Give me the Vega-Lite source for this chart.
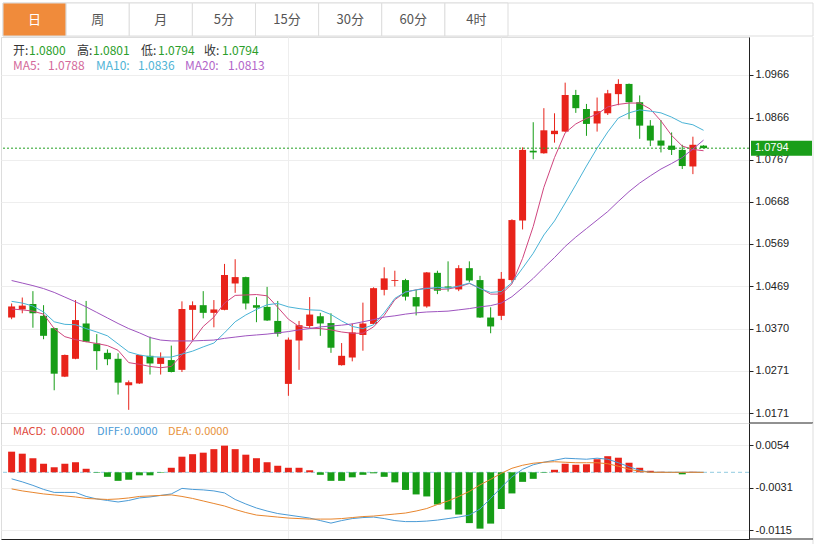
{
"$schema": "https://vega.github.io/schema/vega-lite/v6.json",
"padding": 0,
"spacing": 0,
"bounds": "flush",
"background": "white",
"config": {
  "view": {"stroke": "#dddddd"},
  "locale": {"number": {"decimal": ".", "thousands": ",", "grouping": [3], "currency": ["", ""], "minus": "-"}},
  "font": "Liberation Sans"
},
"datasets": {
  "tabs": [{"tab":"日"},{"tab":"周"},{"tab":"月"},{"tab":"5分"},{"tab":"15分"},{"tab":"30分"},{"tab":"60分"},{"tab":"4时"}],
  "last": [{"o":1.0800,"h":1.0801,"l":1.0794,"c":1.0794,"ma5":1.0788,"ma10":1.0836,"ma20":1.0813,"macd":0,"diff":0,"dea":0}],
  "k": [
{"i":0,"o":1.0396,"h":1.0429,"l":1.0392,"c":1.0422,"ma5":1.0416,"ma10":1.0434,"ma20":1.0483,"macd":0.0041,"diff":-0.0013,"dea":-0.0033},
{"i":1,"o":1.0415,"h":1.0443,"l":1.0406,"c":1.0424,"ma5":1.0414,"ma10":1.0430,"ma20":1.0477,"macd":0.0037,"diff":-0.0019,"dea":-0.0037},
{"i":2,"o":1.0428,"h":1.0458,"l":1.0372,"c":1.0406,"ma5":1.0411,"ma10":1.0423,"ma20":1.0471,"macd":0.0028,"diff":-0.0026,"dea":-0.0040},
{"i":3,"o":1.0400,"h":1.0425,"l":1.0345,"c":1.0353,"ma5":1.0404,"ma10":1.0409,"ma20":1.0464,"macd":0.0017,"diff":-0.0034,"dea":-0.0043},
{"i":4,"o":1.0371,"h":1.0372,"l":1.0225,"c":1.0264,"ma5":1.0370,"ma10":1.0386,"ma20":1.0455,"macd":0.0010,"diff":-0.0040,"dea":-0.0045},
{"i":5,"o":1.0257,"h":1.0309,"l":1.0256,"c":1.0308,"ma5":1.0351,"ma10":1.0380,"ma20":1.0444,"macd":0.0017,"diff":-0.0040,"dea":-0.0047},
{"i":6,"o":1.0299,"h":1.0437,"l":1.0298,"c":1.0390,"ma5":1.0344,"ma10":1.0379,"ma20":1.0433,"macd":0.0020,"diff":-0.0040,"dea":-0.0049},
{"i":7,"o":1.0382,"h":1.0435,"l":1.0338,"c":1.0339,"ma5":1.0339,"ma10":1.0370,"ma20":1.0421,"macd":0.0007,"diff":-0.0048,"dea":-0.0052},
{"i":8,"o":1.0335,"h":1.0357,"l":1.0273,"c":1.0317,"ma5":1.0335,"ma10":1.0362,"ma20":1.0408,"macd":-0.0001,"diff":-0.0053,"dea":-0.0053},
{"i":9,"o":1.0313,"h":1.0321,"l":1.0284,"c":1.0298,"ma5":1.0330,"ma10":1.0353,"ma20":1.0395,"macd":-0.0009,"diff":-0.0056,"dea":-0.0054},
{"i":10,"o":1.0299,"h":1.0312,"l":1.0215,"c":1.0243,"ma5":1.0319,"ma10":1.0334,"ma20":1.0382,"macd":-0.0017,"diff":-0.0059,"dea":-0.0053},
{"i":11,"o":1.0237,"h":1.0248,"l":1.0179,"c":1.0244,"ma5":1.0290,"ma10":1.0315,"ma20":1.0370,"macd":-0.0015,"diff":-0.0056,"dea":-0.0051},
{"i":12,"o":1.0241,"h":1.0308,"l":1.0240,"c":1.0308,"ma5":1.0286,"ma10":1.0308,"ma20":1.0360,"macd":-0.0006,"diff":-0.0051,"dea":-0.0048},
{"i":13,"o":1.0306,"h":1.0351,"l":1.0262,"c":1.0288,"ma5":1.0281,"ma10":1.0304,"ma20":1.0349,"macd":-0.0006,"diff":-0.0049,"dea":-0.0047},
{"i":14,"o":1.0287,"h":1.0314,"l":1.0262,"c":1.0302,"ma5":1.0278,"ma10":1.0303,"ma20":1.0343,"macd":-0.0001,"diff":-0.0046,"dea":-0.0046},
{"i":15,"o":1.0296,"h":1.0330,"l":1.0267,"c":1.0268,"ma5":1.0281,"ma10":1.0303,"ma20":1.0341,"macd":0.0009,"diff":-0.0043,"dea":-0.0045},
{"i":16,"o":1.0273,"h":1.0434,"l":1.0268,"c":1.0416,"ma5":1.0308,"ma10":1.0310,"ma20":1.0341,"macd":0.0031,"diff":-0.0032,"dea":-0.0048},
{"i":17,"o":1.0414,"h":1.0434,"l":1.0343,"c":1.0425,"ma5":1.0341,"ma10":1.0317,"ma20":1.0341,"macd":0.0036,"diff":-0.0034,"dea":-0.0052},
{"i":18,"o":1.0425,"h":1.0458,"l":1.0394,"c":1.0407,"ma5":1.0375,"ma10":1.0327,"ma20":1.0342,"macd":0.0039,"diff":-0.0035,"dea":-0.0057},
{"i":19,"o":1.0407,"h":1.0437,"l":1.0373,"c":1.0415,"ma5":1.0397,"ma10":1.0336,"ma20":1.0343,"macd":0.0046,"diff":-0.0037,"dea":-0.0062},
{"i":20,"o":1.0414,"h":1.0522,"l":1.0413,"c":1.0496,"ma5":1.0430,"ma10":1.0360,"ma20":1.0347,"macd":0.0053,"diff":-0.0041,"dea":-0.0067},
{"i":21,"o":1.0476,"h":1.0533,"l":1.0454,"c":1.0491,"ma5":1.0448,"ma10":1.0386,"ma20":1.0350,"macd":0.0046,"diff":-0.0054,"dea":-0.0074},
{"i":22,"o":1.0491,"h":1.0492,"l":1.0415,"c":1.0429,"ma5":1.0449,"ma10":1.0402,"ma20":1.0353,"macd":0.0035,"diff":-0.0063,"dea":-0.0080},
{"i":23,"o":1.0425,"h":1.0444,"l":1.0385,"c":1.0419,"ma5":1.0450,"ma10":1.0415,"ma20":1.0355,"macd":0.0028,"diff":-0.0071,"dea":-0.0085},
{"i":24,"o":1.0421,"h":1.0468,"l":1.0388,"c":1.0389,"ma5":1.0447,"ma10":1.0426,"ma20":1.0357,"macd":0.0020,"diff":-0.0077,"dea":-0.0087},
{"i":25,"o":1.0388,"h":1.0435,"l":1.0351,"c":1.0358,"ma5":1.0420,"ma10":1.0429,"ma20":1.0360,"macd":0.0013,"diff":-0.0082,"dea":-0.0089},
{"i":26,"o":1.0240,"h":1.0349,"l":1.0212,"c":1.0344,"ma5":1.0392,"ma10":1.0421,"ma20":1.0363,"macd":0.0009,"diff":-0.0085,"dea":-0.0091},
{"i":27,"o":1.0342,"h":1.0388,"l":1.0273,"c":1.0378,"ma5":1.0375,"ma10":1.0417,"ma20":1.0367,"macd":0.0009,"diff":-0.0088,"dea":-0.0092},
{"i":28,"o":1.0376,"h":1.0444,"l":1.0371,"c":1.0403,"ma5":1.0371,"ma10":1.0414,"ma20":1.0370,"macd":0.0004,"diff":-0.0091,"dea":-0.0093},
{"i":29,"o":1.0399,"h":1.0407,"l":1.0353,"c":1.0382,"ma5":1.0370,"ma10":1.0413,"ma20":1.0374,"macd":-0.0005,"diff":-0.0096,"dea":-0.0093},
{"i":30,"o":1.0383,"h":1.0406,"l":1.0313,"c":1.0325,"ma5":1.0367,"ma10":1.0403,"ma20":1.0376,"macd":-0.0017,"diff":-0.0101,"dea":-0.0093},
{"i":31,"o":1.0284,"h":1.0336,"l":1.0283,"c":1.0306,"ma5":1.0362,"ma10":1.0388,"ma20":1.0378,"macd":-0.0017,"diff":-0.0096,"dea":-0.0092},
{"i":32,"o":1.0302,"h":1.0382,"l":1.0293,"c":1.0361,"ma5":1.0359,"ma10":1.0375,"ma20":1.0381,"macd":-0.0010,"diff":-0.0092,"dea":-0.0090},
{"i":33,"o":1.0355,"h":1.0431,"l":1.0318,"c":1.0382,"ma5":1.0359,"ma10":1.0370,"ma20":1.0386,"macd":-0.0005,"diff":-0.0090,"dea":-0.0088},
{"i":34,"o":1.0381,"h":1.0467,"l":1.0380,"c":1.0465,"ma5":1.0374,"ma10":1.0379,"ma20":1.0391,"macd":-0.0002,"diff":-0.0089,"dea":-0.0087},
{"i":35,"o":1.0461,"h":1.0514,"l":1.0448,"c":1.0488,"ma5":1.0401,"ma10":1.0407,"ma20":1.0397,"macd":-0.0009,"diff":-0.0092,"dea":-0.0085},
{"i":36,"o":1.0482,"h":1.0506,"l":1.0469,"c":1.0484,"ma5":1.0438,"ma10":1.0441,"ma20":1.0400,"macd":-0.0020,"diff":-0.0096,"dea":-0.0083},
{"i":37,"o":1.0484,"h":1.0487,"l":1.0436,"c":1.0445,"ma5":1.0456,"ma10":1.0456,"ma20":1.0404,"macd":-0.0035,"diff":-0.0098,"dea":-0.0081},
{"i":38,"o":1.0444,"h":1.0461,"l":1.0401,"c":1.0422,"ma5":1.0461,"ma10":1.0461,"ma20":1.0407,"macd":-0.0044,"diff":-0.0098,"dea":-0.0077},
{"i":39,"o":1.0422,"h":1.0503,"l":1.0419,"c":1.0502,"ma5":1.0466,"ma10":1.0464,"ma20":1.0409,"macd":-0.0048,"diff":-0.0097,"dea":-0.0072},
{"i":40,"o":1.0501,"h":1.0506,"l":1.0451,"c":1.0459,"ma5":1.0462,"ma10":1.0467,"ma20":1.0410,"macd":-0.0064,"diff":-0.0095,"dea":-0.0064},
{"i":41,"o":1.0469,"h":1.0528,"l":1.0457,"c":1.0466,"ma5":1.0463,"ma10":1.0465,"ma20":1.0411,"macd":-0.0074,"diff":-0.0092,"dea":-0.0057},
{"i":42,"o":1.0462,"h":1.0519,"l":1.0458,"c":1.0512,"ma5":1.0468,"ma10":1.0470,"ma20":1.0414,"macd":-0.0084,"diff":-0.0089,"dea":-0.0048},
{"i":43,"o":1.0512,"h":1.0528,"l":1.0479,"c":1.0483,"ma5":1.0476,"ma10":1.0477,"ma20":1.0417,"macd":-0.0101,"diff":-0.0085,"dea":-0.0038},
{"i":44,"o":1.0484,"h":1.0494,"l":1.0395,"c":1.0396,"ma5":1.0465,"ma10":1.0464,"ma20":1.0421,"macd":-0.0112,"diff":-0.0073,"dea":-0.0025},
{"i":45,"o":1.0396,"h":1.0420,"l":1.0359,"c":1.0375,"ma5":1.0451,"ma10":1.0455,"ma20":1.0424,"macd":-0.0102,"diff":-0.0052,"dea":-0.0014},
{"i":46,"o":1.0400,"h":1.0503,"l":1.0390,"c":1.0487,"ma5":1.0451,"ma10":1.0457,"ma20":1.0430,"macd":-0.0073,"diff":-0.0030,"dea":-0.0002},
{"i":47,"o":1.0484,"h":1.0627,"l":1.0478,"c":1.0625,"ma5":1.0475,"ma10":1.0478,"ma20":1.0445,"macd":-0.0042,"diff":-0.0009,"dea":0.0008},
{"i":48,"o":1.0624,"h":1.0796,"l":1.0603,"c":1.0790,"ma5":1.0535,"ma10":1.0512,"ma20":1.0466,"macd":-0.0019,"diff":0.0006,"dea":0.0014},
{"i":49,"o":1.0788,"h":1.0855,"l":1.0768,"c":1.0784,"ma5":1.0610,"ma10":1.0547,"ma20":1.0488,"macd":-0.0013,"diff":0.0015,"dea":0.0018},
{"i":50,"o":1.0782,"h":1.0888,"l":1.0781,"c":1.0836,"ma5":1.0702,"ma10":1.0590,"ma20":1.0513,"macd":-0.0001,"diff":0.0020,"dea":0.0020},
{"i":51,"o":1.0827,"h":1.0876,"l":1.0807,"c":1.0835,"ma5":1.0772,"ma10":1.0623,"ma20":1.0537,"macd":0.0005,"diff":0.0024,"dea":0.0021},
{"i":52,"o":1.0833,"h":1.0948,"l":1.0832,"c":1.0919,"ma5":1.0830,"ma10":1.0665,"ma20":1.0563,"macd":0.0017,"diff":0.0028,"dea":0.0020},
{"i":53,"o":1.0919,"h":1.0931,"l":1.0877,"c":1.0888,"ma5":1.0851,"ma10":1.0708,"ma20":1.0585,"macd":0.0015,"diff":0.0027,"dea":0.0019},
{"i":54,"o":1.0886,"h":1.0898,"l":1.0823,"c":1.0851,"ma5":1.0864,"ma10":1.0752,"ma20":1.0605,"macd":0.0016,"diff":0.0026,"dea":0.0019},
{"i":55,"o":1.0852,"h":1.0913,"l":1.0833,"c":1.0881,"ma5":1.0874,"ma10":1.0794,"ma20":1.0625,"macd":0.0026,"diff":0.0028,"dea":0.0019},
{"i":56,"o":1.0876,"h":1.0931,"l":1.0872,"c":1.0923,"ma5":1.0891,"ma10":1.0832,"ma20":1.0645,"macd":0.0032,"diff":0.0026,"dea":0.0017},
{"i":57,"o":1.0921,"h":1.0956,"l":1.0895,"c":1.0945,"ma5":1.0897,"ma10":1.0865,"ma20":1.0669,"macd":0.0029,"diff":0.0019,"dea":0.0012},
{"i":58,"o":1.0945,"h":1.0946,"l":1.0862,"c":1.0902,"ma5":1.0900,"ma10":1.0877,"ma20":1.0692,"macd":0.0019,"diff":0.0011,"dea":0.0006},
{"i":59,"o":1.0902,"h":1.0918,"l":1.0816,"c":1.0847,"ma5":1.0900,"ma10":1.0884,"ma20":1.0712,"macd":0.0009,"diff":0.0004,"dea":0.0002},
{"i":60,"o":1.0847,"h":1.0860,"l":1.0799,"c":1.0812,"ma5":1.0886,"ma10":1.0881,"ma20":1.0729,"macd":0.0003,"diff":0.0000,"dea":0.0000},
{"i":61,"o":1.0812,"h":1.0860,"l":1.0784,"c":1.0800,"ma5":1.0858,"ma10":1.0877,"ma20":1.0745,"macd":0.0001,"diff":0.0000,"dea":0.0000},
{"i":62,"o":1.0800,"h":1.0831,"l":1.0778,"c":1.0790,"ma5":1.0824,"ma10":1.0867,"ma20":1.0758,"macd":0.0000,"diff":0.0000,"dea":0.0000},
{"i":63,"o":1.0790,"h":1.0802,"l":1.0745,"c":1.0752,"ma5":1.0799,"ma10":1.0854,"ma20":1.0772,"macd":-0.0004,"diff":0.0000,"dea":0.0000},
{"i":64,"o":1.0751,"h":1.0821,"l":1.0733,"c":1.0802,"ma5":1.0791,"ma10":1.0849,"ma20":1.0792,"macd":0.0001,"diff":0.0000,"dea":0.0000},
{"i":65,"o":1.0800,"h":1.0801,"l":1.0794,"c":1.0794,"ma5":1.0788,"ma10":1.0836,"ma20":1.0813,"macd":0.0000,"diff":0.0000,"dea":0.0000}
  ]
},
"vconcat": [
  {
    "width": 812,
    "height": 37,
    "view": {"stroke": null},
    "data": {"name": "tabs"},
    "layer": [
      {"data": {"values": [{}]}, "mark": {"type": "rect", "fill": "white", "stroke": "#dddddd", "strokeWidth": 1},
       "encoding": {"x": {"value": 2}, "x2": {"value": 812}, "y": {"value": 3}, "y2": {"value": 36}}},
      {"mark": {"type": "rect", "stroke": "#dddddd", "strokeWidth": 1},
       "encoding": {
         "x": {"field": "tab", "type": "nominal", "sort": null, "scale": {"range": [2, 507], "paddingInner": 0, "paddingOuter": 0}, "axis": null},
         "y": {"value": 3}, "y2": {"value": 36},
         "fill": {"condition": {"test": "datum.tab === '日'", "value": "#f08b3b"}, "value": "#ffffff"}
       }},
      {"mark": {"type": "text", "font": "Noto Sans CJK SC", "fontSize": 13, "baseline": "middle", "align": "center"},
       "encoding": {
         "x": {"field": "tab", "type": "nominal", "sort": null, "axis": null},
         "y": {"value": 19.5},
         "text": {"field": "tab"},
         "color": {"condition": {"test": "datum.tab === '日'", "value": "#ffffff"}, "value": "#555555"}
       }}
    ]
  },
  {
    "width": 748,
    "height": 386,
    "data": {"name": "k"},
    "layer": [
      {"data": {"values": [{}]}, "mark": {"type": "rule", "color": "#dddddd", "strokeWidth": 1},
       "encoding": {"x": {"value": 812}, "y": {"value": 0}, "y2": {"value": 386}}},
      {"data": {"values": [{}]}, "mark": {"type": "rule", "color": "#222222", "strokeWidth": 1},
       "encoding": {"x": {"value": 748}, "x2": {"value": 812}, "y": {"value": 386}}},
      {"mark": {"type": "rule", "strokeWidth": 1},
       "encoding": {
         "x": {"field": "i", "type": "quantitative", "title": null, "scale": {"domain": [-0.528, 68.8], "nice": false, "zero": false},
               "axis": {"values": [26, 46], "grid": true, "gridColor": "#eeeeee", "labels": false, "ticks": false, "domain": true, "domainColor": "#222222", "title": null}},
         "y": {"field": "l", "type": "quantitative", "title": null, "scale": {"domain": [1.01481, 1.10553], "nice": false, "zero": false},
               "axis": {"orient": "right", "values": [1.0171, 1.0271, 1.0370, 1.0469, 1.0569, 1.0668, 1.0767, 1.0866, 1.0966], "format": ".4f", "grid": true, "gridColor": "#eeeeee", "tickSize": 4, "tickColor": "#222222", "domainColor": "#222222", "labelColor": "#222222", "labelFontSize": 11, "labelPadding": 2, "labelFont": "Liberation Sans", "title": null}},
         "y2": {"field": "h"},
         "color": {"condition": {"test": "datum.c >= datum.o", "value": "#e8231a"}, "value": "#169d16"}
       }},
      {"mark": {"type": "bar", "width": 7},
       "encoding": {
         "x": {"field": "i", "type": "quantitative", "title": null},
         "y": {"field": "o", "type": "quantitative", "title": null},
         "y2": {"field": "c"},
         "color": {"condition": {"test": "datum.c >= datum.o", "value": "#e8231a"}, "value": "#169d16"}
       }},
      {"mark": {"type": "line", "color": "#d0457e", "strokeWidth": 1},
       "encoding": {"x": {"field": "i", "type": "quantitative", "title": null}, "y": {"field": "ma5", "type": "quantitative", "title": null}}},
      {"mark": {"type": "line", "color": "#49b3d6", "strokeWidth": 1},
       "encoding": {"x": {"field": "i", "type": "quantitative", "title": null}, "y": {"field": "ma10", "type": "quantitative", "title": null}}},
      {"mark": {"type": "line", "color": "#9e54bf", "strokeWidth": 1},
       "encoding": {"x": {"field": "i", "type": "quantitative", "title": null}, "y": {"field": "ma20", "type": "quantitative", "title": null}}},
      {"data": {"name": "last"}, "mark": {"type": "rule", "color": "#22a022", "strokeDash": [2, 2], "strokeWidth": 1},
       "encoding": {"y": {"field": "c", "type": "quantitative", "title": null}}},
      {"data": {"name": "last"}, "mark": {"type": "rect", "color": "#1a9e1a", "yOffset": -7.5, "y2Offset": 7.5},
       "encoding": {"x": {"value": 750}, "x2": {"value": 811}, "y": {"field": "c", "type": "quantitative", "title": null}, "y2": {"field": "c"}}},
      {"data": {"name": "last"}, "mark": {"type": "text", "color": "#ffffff", "align": "left", "baseline": "middle", "fontSize": 11, "font": "Liberation Sans"},
       "encoding": {"x": {"value": 754}, "y": {"field": "c", "type": "quantitative", "title": null}, "text": {"field": "c", "type": "quantitative", "format": ".4f"}}},
      {"data": {"name": "last"}, "mark": {"type": "text", "text": "开:", "color": "#333333", "align": "left", "baseline": "middle", "fontSize": 12, "font": "Noto Sans CJK SC"},
       "encoding": {"x": {"value": 12}, "y": {"value": 13.5}}},
      {"data": {"name": "last"}, "mark": {"type": "text", "color": "#2a9e2a", "align": "left", "baseline": "middle", "fontSize": 12, "font": "Noto Sans CJK SC"},
       "encoding": {"x": {"value": 28}, "y": {"value": 13.5}, "text": {"field": "o", "type": "quantitative", "format": ".4f"}}},
      {"data": {"name": "last"}, "mark": {"type": "text", "text": "高:", "color": "#333333", "align": "left", "baseline": "middle", "fontSize": 12, "font": "Noto Sans CJK SC"},
       "encoding": {"x": {"value": 76}, "y": {"value": 13.5}}},
      {"data": {"name": "last"}, "mark": {"type": "text", "color": "#2a9e2a", "align": "left", "baseline": "middle", "fontSize": 12, "font": "Noto Sans CJK SC"},
       "encoding": {"x": {"value": 92}, "y": {"value": 13.5}, "text": {"field": "h", "type": "quantitative", "format": ".4f"}}},
      {"data": {"name": "last"}, "mark": {"type": "text", "text": "低:", "color": "#333333", "align": "left", "baseline": "middle", "fontSize": 12, "font": "Noto Sans CJK SC"},
       "encoding": {"x": {"value": 140}, "y": {"value": 13.5}}},
      {"data": {"name": "last"}, "mark": {"type": "text", "color": "#2a9e2a", "align": "left", "baseline": "middle", "fontSize": 12, "font": "Noto Sans CJK SC"},
       "encoding": {"x": {"value": 157}, "y": {"value": 13.5}, "text": {"field": "l", "type": "quantitative", "format": ".4f"}}},
      {"data": {"name": "last"}, "mark": {"type": "text", "text": "收:", "color": "#333333", "align": "left", "baseline": "middle", "fontSize": 12, "font": "Noto Sans CJK SC"},
       "encoding": {"x": {"value": 203}, "y": {"value": 13.5}}},
      {"data": {"name": "last"}, "mark": {"type": "text", "color": "#2a9e2a", "align": "left", "baseline": "middle", "fontSize": 12, "font": "Noto Sans CJK SC"},
       "encoding": {"x": {"value": 221}, "y": {"value": 13.5}, "text": {"field": "c", "type": "quantitative", "format": ".4f"}}},
      {"data": {"name": "last"}, "mark": {"type": "text", "text": "MA5:", "color": "#d46a9b", "align": "left", "baseline": "middle", "fontSize": 12, "font": "Noto Sans CJK SC"},
       "encoding": {"x": {"value": 12}, "y": {"value": 29}}},
      {"data": {"name": "last"}, "mark": {"type": "text", "color": "#d46a9b", "align": "left", "baseline": "middle", "fontSize": 12, "font": "Noto Sans CJK SC"},
       "encoding": {"x": {"value": 47}, "y": {"value": 29}, "text": {"field": "ma5", "type": "quantitative", "format": ".4f"}}},
      {"data": {"name": "last"}, "mark": {"type": "text", "text": "MA10:", "color": "#4fb4d6", "align": "left", "baseline": "middle", "fontSize": 12, "font": "Noto Sans CJK SC"},
       "encoding": {"x": {"value": 95}, "y": {"value": 29}}},
      {"data": {"name": "last"}, "mark": {"type": "text", "color": "#4fb4d6", "align": "left", "baseline": "middle", "fontSize": 12, "font": "Noto Sans CJK SC"},
       "encoding": {"x": {"value": 137}, "y": {"value": 29}, "text": {"field": "ma10", "type": "quantitative", "format": ".4f"}}},
      {"data": {"name": "last"}, "mark": {"type": "text", "text": "MA20:", "color": "#b266c9", "align": "left", "baseline": "middle", "fontSize": 12, "font": "Noto Sans CJK SC"},
       "encoding": {"x": {"value": 184}, "y": {"value": 29}}},
      {"data": {"name": "last"}, "mark": {"type": "text", "color": "#b266c9", "align": "left", "baseline": "middle", "fontSize": 12, "font": "Noto Sans CJK SC"},
       "encoding": {"x": {"value": 227}, "y": {"value": 29}, "text": {"field": "ma20", "type": "quantitative", "format": ".4f"}}}
    ]
  },
  {
    "width": 748,
    "height": 116,
    "data": {"name": "k"},
    "layer": [
      {"data": {"values": [{}]}, "mark": {"type": "rule", "color": "#dddddd", "strokeWidth": 1},
       "encoding": {"x": {"value": 812}, "y": {"value": 0}, "y2": {"value": 121}}},
      {"data": {"values": [{}]}, "mark": {"type": "rule", "color": "#222222", "strokeWidth": 1},
       "encoding": {"x": {"value": 748}, "x2": {"value": 812}, "y": {"value": 116}}},
      {"data": {"values": [{}]}, "mark": {"type": "rule", "color": "#92cbe0", "strokeDash": [4, 3], "strokeWidth": 1},
       "encoding": {"y": {"datum": 0, "type": "quantitative", "title": null}}},
      {"mark": {"type": "bar", "width": 7},
       "encoding": {
         "x": {"field": "i", "type": "quantitative", "title": null, "scale": {"domain": [-0.528, 68.8], "nice": false, "zero": false},
               "axis": {"values": [26, 46], "grid": true, "gridColor": "#eeeeee", "labels": false, "ticks": false, "domain": true, "domainColor": "#222222", "title": null}},
         "y": {"field": "macd", "type": "quantitative", "title": null, "scale": {"domain": [-0.01326, 0.0098], "nice": false, "zero": false},
               "axis": {"orient": "right", "values": [0.0054, -0.0031, -0.0115], "format": ".4f", "grid": true, "gridColor": "#eeeeee", "tickSize": 4, "tickColor": "#222222", "domainColor": "#222222", "labelColor": "#222222", "labelFontSize": 11, "labelPadding": 2, "labelFont": "Liberation Sans", "title": null}},
         "y2": {"datum": 0},
         "color": {"condition": {"test": "datum.macd >= 0", "value": "#e8231a"}, "value": "#169d16"}
       }},
      {"mark": {"type": "line", "color": "#4a9bd6", "strokeWidth": 1},
       "encoding": {"x": {"field": "i", "type": "quantitative", "title": null}, "y": {"field": "diff", "type": "quantitative", "title": null}}},
      {"mark": {"type": "line", "color": "#e8862e", "strokeWidth": 1},
       "encoding": {"x": {"field": "i", "type": "quantitative", "title": null}, "y": {"field": "dea", "type": "quantitative", "title": null}}},
      {"data": {"name": "last"}, "mark": {"type": "text", "text": "MACD:", "color": "#e0473b", "align": "left", "baseline": "middle", "fontSize": 11, "font": "Noto Sans CJK SC"},
       "encoding": {"x": {"value": 12}, "y": {"value": 8.5}}},
      {"data": {"name": "last"}, "mark": {"type": "text", "color": "#e0473b", "align": "left", "baseline": "middle", "fontSize": 11, "font": "Noto Sans CJK SC"},
       "encoding": {"x": {"value": 50}, "y": {"value": 8.5}, "text": {"field": "macd", "type": "quantitative", "format": ".4f"}}},
      {"data": {"name": "last"}, "mark": {"type": "text", "text": "DIFF:", "color": "#4a9ad6", "align": "left", "baseline": "middle", "fontSize": 11, "font": "Noto Sans CJK SC"},
       "encoding": {"x": {"value": 96}, "y": {"value": 8.5}}},
      {"data": {"name": "last"}, "mark": {"type": "text", "color": "#4a9ad6", "align": "left", "baseline": "middle", "fontSize": 11, "font": "Noto Sans CJK SC"},
       "encoding": {"x": {"value": 123}, "y": {"value": 8.5}, "text": {"field": "diff", "type": "quantitative", "format": ".4f"}}},
      {"data": {"name": "last"}, "mark": {"type": "text", "text": "DEA:", "color": "#e8923b", "align": "left", "baseline": "middle", "fontSize": 11, "font": "Noto Sans CJK SC"},
       "encoding": {"x": {"value": 167}, "y": {"value": 8.5}}},
      {"data": {"name": "last"}, "mark": {"type": "text", "color": "#e8923b", "align": "left", "baseline": "middle", "fontSize": 11, "font": "Noto Sans CJK SC"},
       "encoding": {"x": {"value": 194}, "y": {"value": 8.5}, "text": {"field": "dea", "type": "quantitative", "format": ".4f"}}}
    ]
  }
]
}
